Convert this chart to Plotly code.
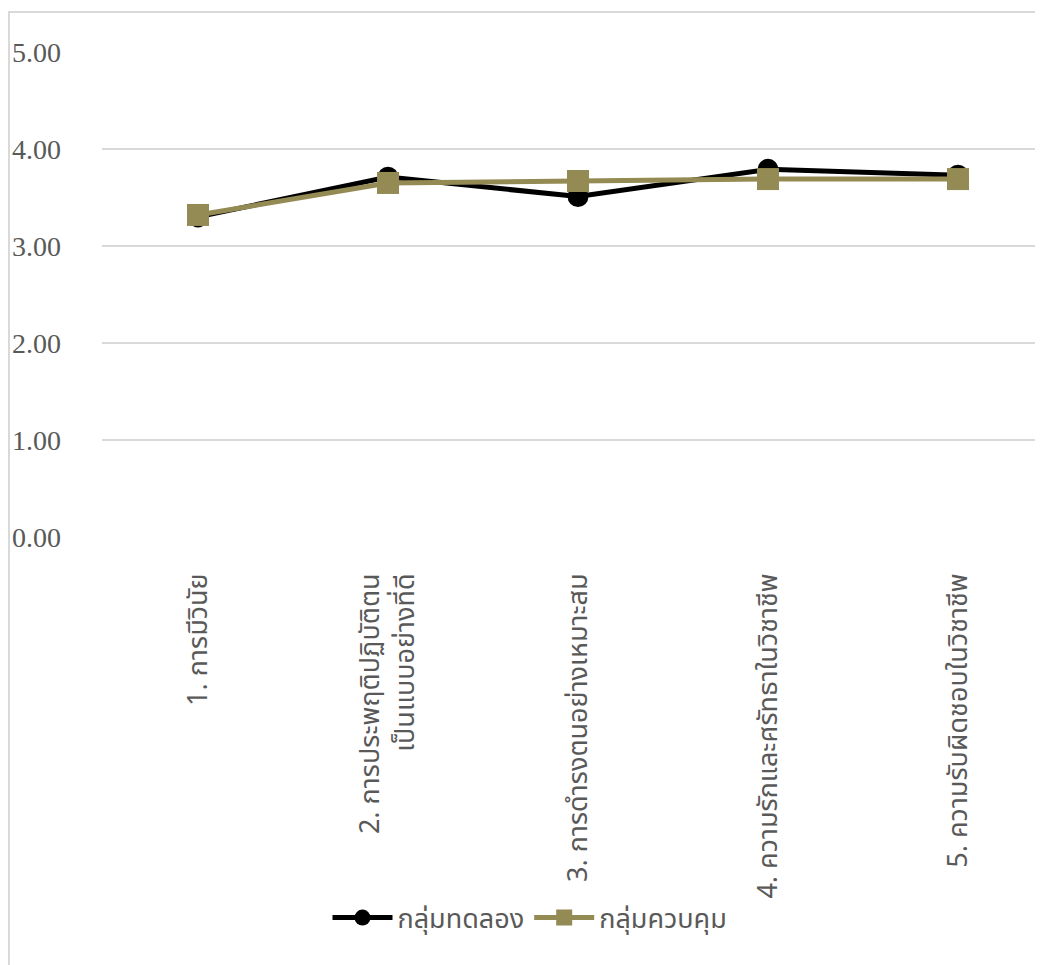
import plotly.graph_objects as go

categories = [
    "1. การมีวินัย",
    "2. การประพฤติปฏิบัติตน<br>เป็นแบบอย่างที่ดี",
    "3. การดำรงตนอย่างเหมาะสม",
    "4. ความรักและศรัทธาในวิชาชีพ",
    "5. ความรับผิดชอบในวิชาชีพ",
]
experimental = [3.30, 3.71, 3.51, 3.79, 3.73]
control = [3.32, 3.65, 3.67, 3.69, 3.69]
series_names = ["กลุ่มทดลอง", "กลุ่มควบคุม"]
y_ticks = [0, 1, 2, 3, 4, 5]
y_tick_labels = ["0.00", "1.00", "2.00", "3.00", "4.00", "5.00"]

x_idx = list(range(len(categories)))

# page has an 8px body margin, so figure coordinates = page - 8
OFF = 8
W, H = 1043 - OFF, 965 - OFF
L, T = 102 - OFF, 52 - OFF
B = H - (537 - OFF)
px_per_cat = 190.0
first_cat_px = 198 - OFF
x0 = -(first_cat_px - L) / px_per_cat
x1 = x0 + (W - L) / px_per_cat

gray = "#595959"
olive = "#948A54"
thai_font = "Noto Sans Thai, Tahoma, Noto Sans, sans-serif"

fig = go.Figure()
fig.add_trace(go.Scatter(
    x=x_idx, y=experimental, name=series_names[0], mode="lines+markers",
    line=dict(color="black", width=5),
    marker=dict(symbol="circle", size=21, color="black"),
))
fig.add_trace(go.Scatter(
    x=x_idx, y=control, name=series_names[1], mode="lines+markers",
    line=dict(color=olive, width=5),
    marker=dict(symbol="square", size=22, color=olive),
))

plot_w = W - L
plot_h = H - T - B
fig.add_shape(
    type="rect", xref="paper", yref="paper",
    x0=(1 - L) / plot_w, x1=1.2,
    y0=-2, y1=((537 - OFF) - (12 - OFF)) / plot_h,
    line=dict(color="#d9d9d9", width=2), fillcolor="rgba(0,0,0,0)",
    layer="below",
)

fig.update_layout(
    width=W, height=H,
    margin=dict(l=L, r=0, t=T, b=B, autoexpand=False),
    paper_bgcolor="white", plot_bgcolor="white",
    showlegend=True,
    legend=dict(
        orientation="h", xref="container", yref="container",
        x=(530 - OFF) / W, y=1 - (918 - OFF) / H, xanchor="center", yanchor="middle",
        font=dict(family=thai_font, size=27, color=gray),
        bgcolor="rgba(0,0,0,0)", itemwidth=60, tracegroupgap=0,
    ),
    xaxis=dict(
        range=[x0, x1], tickmode="array", tickvals=x_idx, ticktext=categories,
        tickangle=-90, showgrid=False, zeroline=False, showline=False,
        ticks="", ticklabelstandoff=30, automargin=False,
        tickfont=dict(family=thai_font, size=27, color=gray),
    ),
    yaxis=dict(
        range=[0, 5], tickmode="array", tickvals=y_ticks, ticktext=y_tick_labels,
        showgrid=True, gridcolor="#d9d9d9", gridwidth=1.5, zeroline=False,
        showline=False, ticks="", ticklabelstandoff=40, automargin=False,
        tickfont=dict(family="Liberation Serif, Times New Roman, serif", size=28, color=gray),
    ),
)

fig.write_html("out.html")
